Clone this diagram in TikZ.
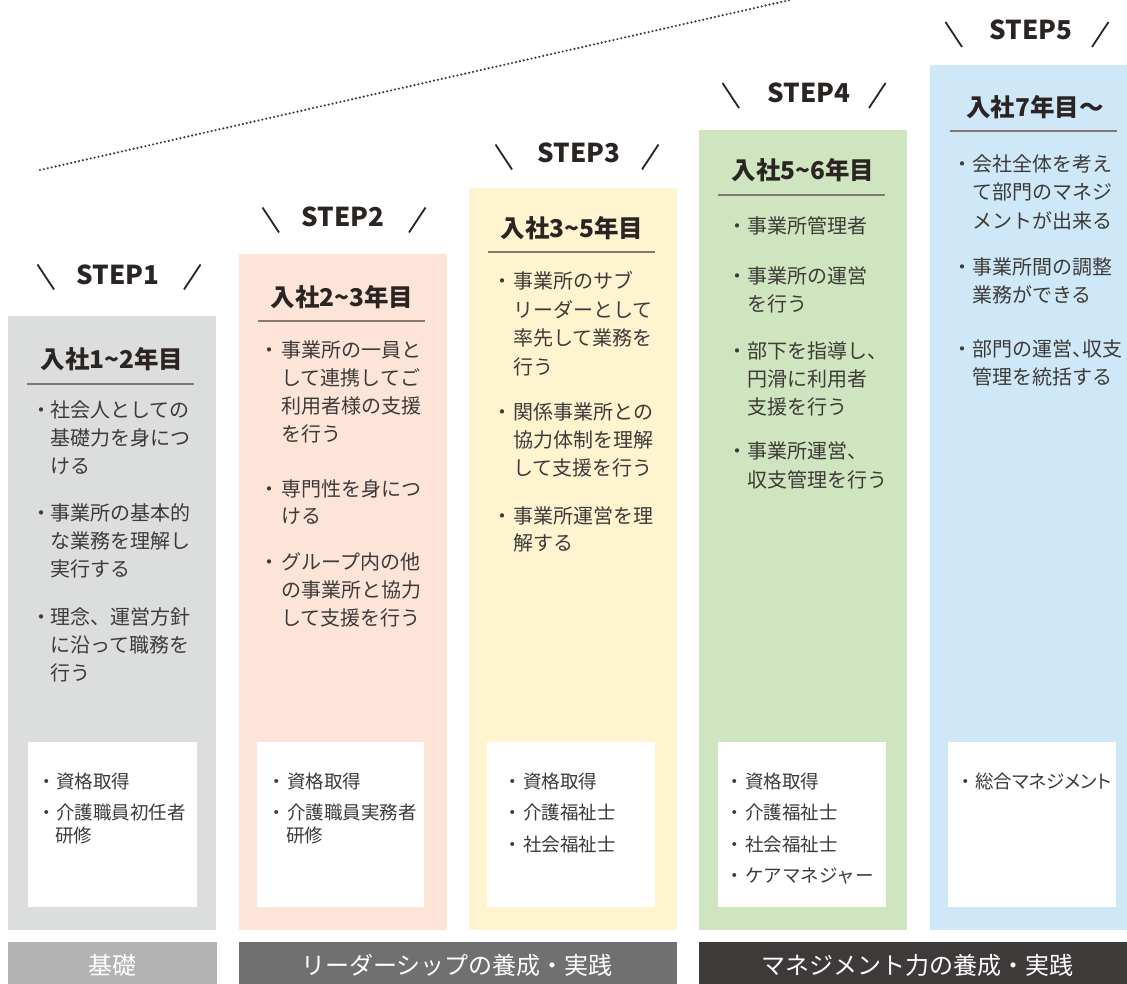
\documentclass[tikz,border=0pt]{standalone}
\usepackage{fontspec}
\setmainfont{Noto Sans CJK JP}
\definecolor{txt}{HTML}{3E3A39}
\definecolor{dark}{HTML}{2A2523}
\definecolor{cgray}{HTML}{DCDDDD}
\definecolor{cpink}{HTML}{FDE4D8}
\definecolor{cyel}{HTML}{FEF4D0}
\definecolor{cgreen}{HTML}{CEE5BF}
\definecolor{cblue}{HTML}{CFE8F8}
\definecolor{bar1}{HTML}{B3B3B3}
\definecolor{bar2}{HTML}{707070}
\definecolor{bar3}{HTML}{3E3A39}
\definecolor{uline}{HTML}{85796F}
\newcommand\BL[4]{\node[bodytxt] (#1) at (#2,#3) {#4};}
\newcommand\BU[3]{\node[bodybul] (#1) at (#2,#3) {・};}
\newcommand\CL[4]{\node[certtxt] (#1) at (#2,#3) {#4};}
\newcommand\CU[3]{\node[certbul] (#1) at (#2,#3) {・};}
\newcommand\TL{\char"007E\relax}
\begin{document}
\begin{tikzpicture}[x=1pt,y=-1pt,
  bodytxt/.style={anchor=west, inner sep=0pt, text=txt, font=\fontsize{20}{24}\selectfont, text height=17pt, text depth=3pt},
  bodybul/.style={anchor=center, inner sep=0pt, text=txt, font=\fontsize{20}{24}\selectfont, text height=17pt, text depth=3pt},
  certtxt/.style={anchor=west, inner sep=0pt, text=txt, font=\fontsize{18.5}{22}\selectfont, text height=15.5pt, text depth=2.5pt},
  certbul/.style={anchor=center, inner sep=0pt, text=txt, font=\fontsize{18.5}{22}\selectfont, text height=15.5pt, text depth=2.5pt},
  head/.style={anchor=center, inner sep=0pt, text=dark, font=\fontsize{24.5}{28}\selectfont\bfseries, text height=21pt, text depth=3pt},
  steptxt/.style={anchor=center, inner sep=0pt, text=dark, font=\fontsize{26}{30}\selectfont\bfseries, text height=19pt, text depth=0pt},
  bartxt/.style={anchor=center, inner sep=0pt, text=white, font=\fontsize{24}{28}\selectfont, text height=21pt, text depth=3pt},
  stepmark/.style={draw=dark, line width=1.8pt},
  headline/.style={draw=uline, line width=1.6pt},
  dotline/.style={draw=txt, line width=2.4pt, line cap=round, dash pattern=on 0pt off 4pt}
]
\useasboundingbox (0,0) rectangle (1127,984);
\fill[white] (0,0) rectangle (1127,984);

% dotted line
\coordinate (d0) at (40,170);
\coordinate (d1) at (790,0);
\draw[dotline] (d0) -- (d1);

% columns
\fill[cgray]  (8,316)   rectangle (216,930);
\fill[cpink]  (238.5,254) rectangle (446.5,930);
\fill[cyel]   (469,188) rectangle (677,930);
\fill[cgreen] (699,130) rectangle (907,930);
\fill[cblue]  (929.5,65) rectangle (1127,930);

% white boxes
\fill[white] (28,742) rectangle (197,907);
\fill[white] (257,742) rectangle (424,907);
\fill[white] (487,742) rectangle (655,907);
\fill[white] (718,742) rectangle (886,907);
\fill[white] (948,742) rectangle (1116,907);

% bottom bars
\fill[bar1] (8,942) rectangle (217,984);
\fill[bar2] (238.5,942) rectangle (677,984);
\fill[bar3] (699,942) rectangle (1127,984);
\node[bartxt] (b1) at (112,965) {基礎};
\node[bartxt] (b2) at (457,965) {リーダーシップの養成・実践};
\node[bartxt] (b3) at (917,965) {マネジメント力の養成・実践};

% step labels
\foreach \n/\mx/\my/\tx/\ty in {1/119/277/118/275, 2/344/220/343/217, 3/577/157/579/153, 4/804/95.5/809/93, 5/1027/34.5/1031/30}{
  \node[steptxt] (s\n) at (\tx,\ty) {STEP\n};
  \draw[stepmark] (\mx-81.5,\my-12.5) -- (\mx-65,\my+12.5);
  \draw[stepmark] (\mx+81.5,\my-12.5) -- (\mx+65,\my+12.5);
}

% headers
\node[head] (h1) at (112,359) {入社1\TL 2年目};
\draw[headline] (27,384) -- (194,384);
\node[head] (h2) at (342,297) {入社2\TL 3年目};
\draw[headline] (258,321) -- (425,321);
\node[head] (h3) at (572,229) {入社3\TL 5年目};
\draw[headline] (488,252) -- (655,252);
\node[head] (h4) at (803,171) {入社5\TL 6年目};
\draw[headline] (718,195) -- (885,195);
\node[head] (h5) at (1035,108) {入社7年目〜};
\draw[headline] (950,131) -- (1117,131);

% column 1 body
\BU{c1u1}{41}{410}
\BL{c1a1}{50}{410}{社会人としての}
\BL{c1a2}{50}{438}{基礎力を身につ}
\BL{c1a3}{50}{466}{ける}
\BU{c1u2}{41}{513}
\BL{c1b1}{50}{513}{事業所の基本的}
\BL{c1b2}{50}{541}{な業務を理解し}
\BL{c1b3}{50}{569}{実行する}
\BU{c1u3}{41}{617}
\BL{c1c1}{50}{617}{理念、運営方針}
\BL{c1c2}{50}{645}{に沿って職務を}
\BL{c1c3}{50}{673}{行う}

% column 2 body
\BU{c2u1}{269}{350}
\BL{c2a1}{281}{350}{事業所の一員と}
\BL{c2a2}{281}{378}{して連携してご}
\BL{c2a3}{281}{406}{利用者様の支援}
\BL{c2a4}{281}{434}{を行う}
\BU{c2u2}{269}{489}
\BL{c2b1}{281}{489}{専門性を身につ}
\BL{c2b2}{281}{516}{ける}
\BU{c2u3}{269}{562}
\BL{c2c1}{281}{562}{グループ内の他}
\BL{c2c2}{281}{590}{の事業所と協力}
\BL{c2c3}{281}{618}{して支援を行う}

% column 3 body
\BU{c3u1}{502}{282}
\BL{c3a1}{513}{282}{事業所のサブ}
\BL{c3a2}{513}{310}{リーダーとして}
\BL{c3a3}{513}{338}{率先して業務を}
\BL{c3a4}{513}{367}{行う}
\BU{c3u2}{502}{412}
\BL{c3b1}{513}{412}{関係事業所との}
\BL{c3b2}{513}{440}{協力体制を理解}
\BL{c3b3}{513}{468}{して支援を行う}
\BU{c3u3}{502}{516}
\BL{c3c1}{513}{516}{事業所運営を理}
\BL{c3c2}{513}{543}{解する}

% column 4 body
\BU{c4u1}{737}{227}
\BL{c4a1}{747}{227}{事業所管理者}
\BU{c4u2}{737}{277}
\BL{c4b1}{747}{277}{事業所の運営}
\BL{c4b2}{747}{305}{を行う}
\BU{c4u3}{737}{351}
\BL{c4c1}{747}{351}{部下を指導し、}
\BL{c4c2}{747}{379}{円滑に利用者}
\BL{c4c3}{747}{407}{支援を行う}
\BU{c4u4}{737}{451}
\BL{c4d1}{747}{451}{事業所運営、}
\BL{c4d2}{747}{480}{収支管理を行う}

% column 5 body
\BU{c5u1}{962}{165}
\BL{c5a1}{972}{165}{会社全体を考え}
\BL{c5a2}{972}{193}{て部門のマネジ}
\BL{c5a3}{972}{222}{メントが出来る}
\BU{c5u2}{962}{268}
\BL{c5b1}{972}{268}{事業所間の調整}
\BL{c5b2}{972}{296}{業務ができる}
\BU{c5u3}{962}{349}
\BL{c5c1}{972}{349}{部門の運営\makebox[0.5em][l]{、}収支}
\BL{c5c2}{972}{377}{管理を統括する}

% certificates
\CU{k1u1}{47}{782}
\CL{k1a}{56}{782}{資格取得}
\CU{k1u2}{47}{813}
\CL{k1b}{56}{813}{介護職員初任者}
\CL{k1c}{55}{836}{研修}

\CU{k2u1}{277}{782}
\CL{k2a}{287}{782}{資格取得}
\CU{k2u2}{277}{813}
\CL{k2b}{287}{813}{介護職員実務者}
\CL{k2c}{286}{836}{研修}

\CU{k3u1}{513}{782}
\CL{k3a}{523}{782}{資格取得}
\CU{k3u2}{513}{813}
\CL{k3b}{523}{813}{介護福祉士}
\CU{k3u3}{513}{845}
\CL{k3c}{523}{845}{社会福祉士}

\CU{k4u1}{735}{782}
\CL{k4a}{745}{782}{資格取得}
\CU{k4u2}{735}{813}
\CL{k4b}{745}{813}{介護福祉士}
\CU{k4u3}{735}{845}
\CL{k4c}{745}{845}{社会福祉士}
\CU{k4u4}{735}{876}
\CL{k4d}{745}{876}{ケアマネジャー}

\CU{k5u1}{966}{782}
\CL{k5a}{975}{782}{\addfontfeatures{RawFeature=+palt}総合マネジメント}
\end{tikzpicture}
\end{document}
